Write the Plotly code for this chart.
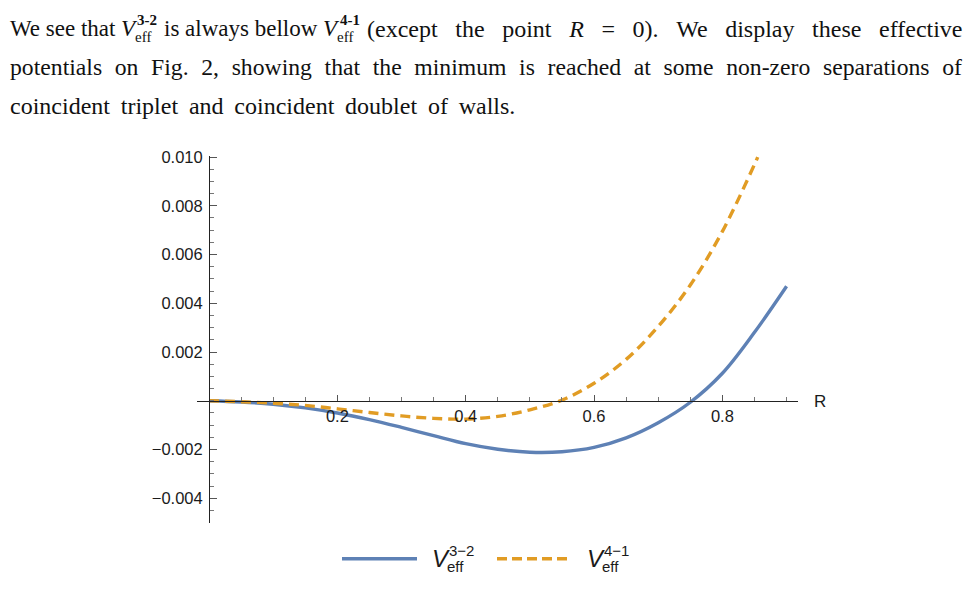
import plotly.graph_objects as go

W, H = 977, 610

# ---- data ----
R_32 = [0.0, 0.05, 0.10, 0.15, 0.20, 0.25, 0.30, 0.35, 0.40, 0.45, 0.50,
        0.55, 0.60, 0.65, 0.70, 0.75, 0.80, 0.85, 0.90]
V_32 = [0.0, -0.00005, -0.00014, -0.00029, -0.00050, -0.00077, -0.00109,
        -0.00143, -0.00176, -0.00199, -0.00211, -0.00209, -0.00191,
        -0.00152, -0.00090, -0.00006, 0.00113, 0.00281, 0.00470]

R_41 = [0.0, 0.05, 0.10, 0.15, 0.20, 0.25, 0.30, 0.35, 0.40, 0.45, 0.50,
        0.55, 0.60, 0.65, 0.70, 0.75, 0.80, 0.85, 0.855]
V_41 = [0.0, -0.00004, -0.00010, -0.00019, -0.00033, -0.00048, -0.00062,
        -0.00072, -0.00075, -0.00064, -0.00037, 0.00003, 0.00072,
        0.00170, 0.00305, 0.00475, 0.00695, 0.00970, 0.01000]

x_tickvals = [0.2, 0.4, 0.6, 0.8]
x_ticktext = ["0.2", "0.4", "0.6", "0.8"]
x_minor = [0.05, 0.10, 0.15, 0.25, 0.30, 0.35, 0.45, 0.50, 0.55, 0.65, 0.70, 0.75, 0.85, 0.90]
y_tickvals = [-0.004, -0.002, 0.002, 0.004, 0.006, 0.008, 0.010]
y_ticktext = ["\u22120.004", "\u22120.002", "0.002", "0.004", "0.006", "0.008", "0.010"]

BLUE = "#5E81B5"
ORANGE = "#E19C24"


def px(x):
    return x / W


def py(y):
    return 1 - y / H


x_range = [-0.0187, 0.917]
y_range = [-0.00502, 0.01005]
x_dom = [px(197), px(797.5)]
y_dom = [py(522), py(149.8)]
x_axis_pos = y_dom[0] + (y_dom[1] - y_dom[0]) * (0 - y_range[0]) / (y_range[1] - y_range[0])
y_axis_pos = x_dom[0] + (x_dom[1] - x_dom[0]) * (0 - x_range[0]) / (x_range[1] - x_range[0])

fig = go.Figure()
fig.add_trace(go.Scatter(x=R_32, y=V_32, mode="lines", line=dict(color=BLUE, width=3.4, shape="spline"),
                         showlegend=False, hoverinfo="skip"))
fig.add_trace(go.Scatter(x=R_41, y=V_41, mode="lines",
                         line=dict(color=ORANGE, width=3.4, shape="spline", dash="10px,6px"),
                         showlegend=False, hoverinfo="skip"))

tickfont = dict(family="Liberation Sans, Arial, sans-serif", size=16.5, color="#1a1a1a")

fig.update_layout(
    width=W, height=H,
    margin=dict(l=0, r=0, t=0, b=0),
    paper_bgcolor="white", plot_bgcolor="white",
    xaxis=dict(domain=x_dom, range=x_range, anchor="free", position=x_axis_pos,
               showgrid=False, zeroline=False, showline=True, linecolor="#222", linewidth=1,
               tickmode="array", tickvals=x_tickvals, ticktext=x_ticktext,
               ticks="inside", ticklen=6, tickcolor="#555", tickwidth=1, tickfont=tickfont,
               ticklabelstandoff=0,
               minor=dict(tickmode="array", tickvals=x_minor, ticks="inside", ticklen=4,
                          tickcolor="#777", tickwidth=1)),
    yaxis=dict(domain=y_dom, range=y_range, anchor="free", position=y_axis_pos,
               showgrid=False, zeroline=False, showline=True, linecolor="#222", linewidth=1,
               tickmode="array", tickvals=y_tickvals, ticktext=y_ticktext,
               ticks="inside", ticklen=7, tickcolor="#555", tickwidth=1, tickfont=tickfont,
               ticklabelstandoff=3,
               minor=dict(dtick=0.0005, tick0=0, ticks="inside", ticklen=4,
                          tickcolor="#777", tickwidth=1)),
)

ann = []
# axis label R
ann.append(dict(x=px(812), y=py(399), xref="paper", yref="paper", text="R", showarrow=False,
                xanchor="left", yanchor="middle", font=dict(family="Liberation Sans, Arial", size=17, color="#1a1a1a")))

# custom legend
fig.add_shape(type="line", xref="paper", yref="paper", x0=px(342), x1=px(417), y0=py(558), y1=py(558),
              line=dict(color=BLUE, width=3.4))
fig.add_shape(type="line", xref="paper", yref="paper", x0=px(497), x1=px(568), y0=py(558), y1=py(558),
              line=dict(color=ORANGE, width=3.4, dash="10px,5px"))
lf = "Liberation Sans, Arial, sans-serif"
for xv, sup in [(430, "3\u22122"), (585, "4\u22121")]:
    ann.append(dict(x=px(xv), y=py(558), xref="paper", yref="paper", text="<i>V</i>", showarrow=False,
                    xanchor="left", yanchor="middle", font=dict(family=lf, size=24, color="#1a1a1a")))
    ann.append(dict(x=px(xv + 17), y=py(550), xref="paper", yref="paper", text=sup, showarrow=False,
                    xanchor="left", yanchor="middle", font=dict(family=lf, size=15, color="#1a1a1a")))
    ann.append(dict(x=px(xv + 15), y=py(566), xref="paper", yref="paper", text="eff", showarrow=False,
                    xanchor="left", yanchor="middle", font=dict(family=lf, size=15, color="#1a1a1a")))

# surrounding paper text
sf = "Liberation Serif, Times New Roman, serif"
tc = "#111"


def spaced(s, extra):
    return s.replace(" ", " " + extra)


def txt(x, y, s, size=23, anchor="left"):
    ann.append(dict(x=px(x), y=py(y), xref="paper", yref="paper", text=s, showarrow=False,
                    xanchor=anchor, yanchor="middle", font=dict(family=sf, size=size, color=tc)))


txt(8, 21, "We see that")
txt(119, 21, "<i>V</i>")
txt(135, 12, "<b>3-2</b>", 15)
txt(133, 29, "eff", 15)
txt(162, 21, "is always bellow")
txt(321, 21, "<i>V</i>")
txt(338, 12, "<b>4-1</b>", 15)
txt(335, 29, "eff", 15)
txt(365, 21, spaced("(except the point <i>R</i> = 0). We display these effective", "\u2009\u2009\u200a"), 24)
txt(8, 60, spaced("potentials on Fig. 2, showing that the minimum is reached at some non-zero separations of",
                  "\u2009\u200a"), 23.7)
txt(8, 99, spaced("coincident triplet and coincident doublet of walls.", "\u2009"), 24)
# clipped math at bottom edge (cut off in the reference as well)
ann.append(dict(x=px(527), y=py(606), xref="paper", yref="paper", text="3\u22122", showarrow=False,
                xanchor="left", yanchor="top", font=dict(family=sf, size=15, color=tc)))
ann.append(dict(x=px(607), y=py(606), xref="paper", yref="paper", text="4\u22121", showarrow=False,
                xanchor="left", yanchor="top", font=dict(family=sf, size=15, color=tc)))

fig.update_layout(annotations=ann)
fig.write_html("out.html")
